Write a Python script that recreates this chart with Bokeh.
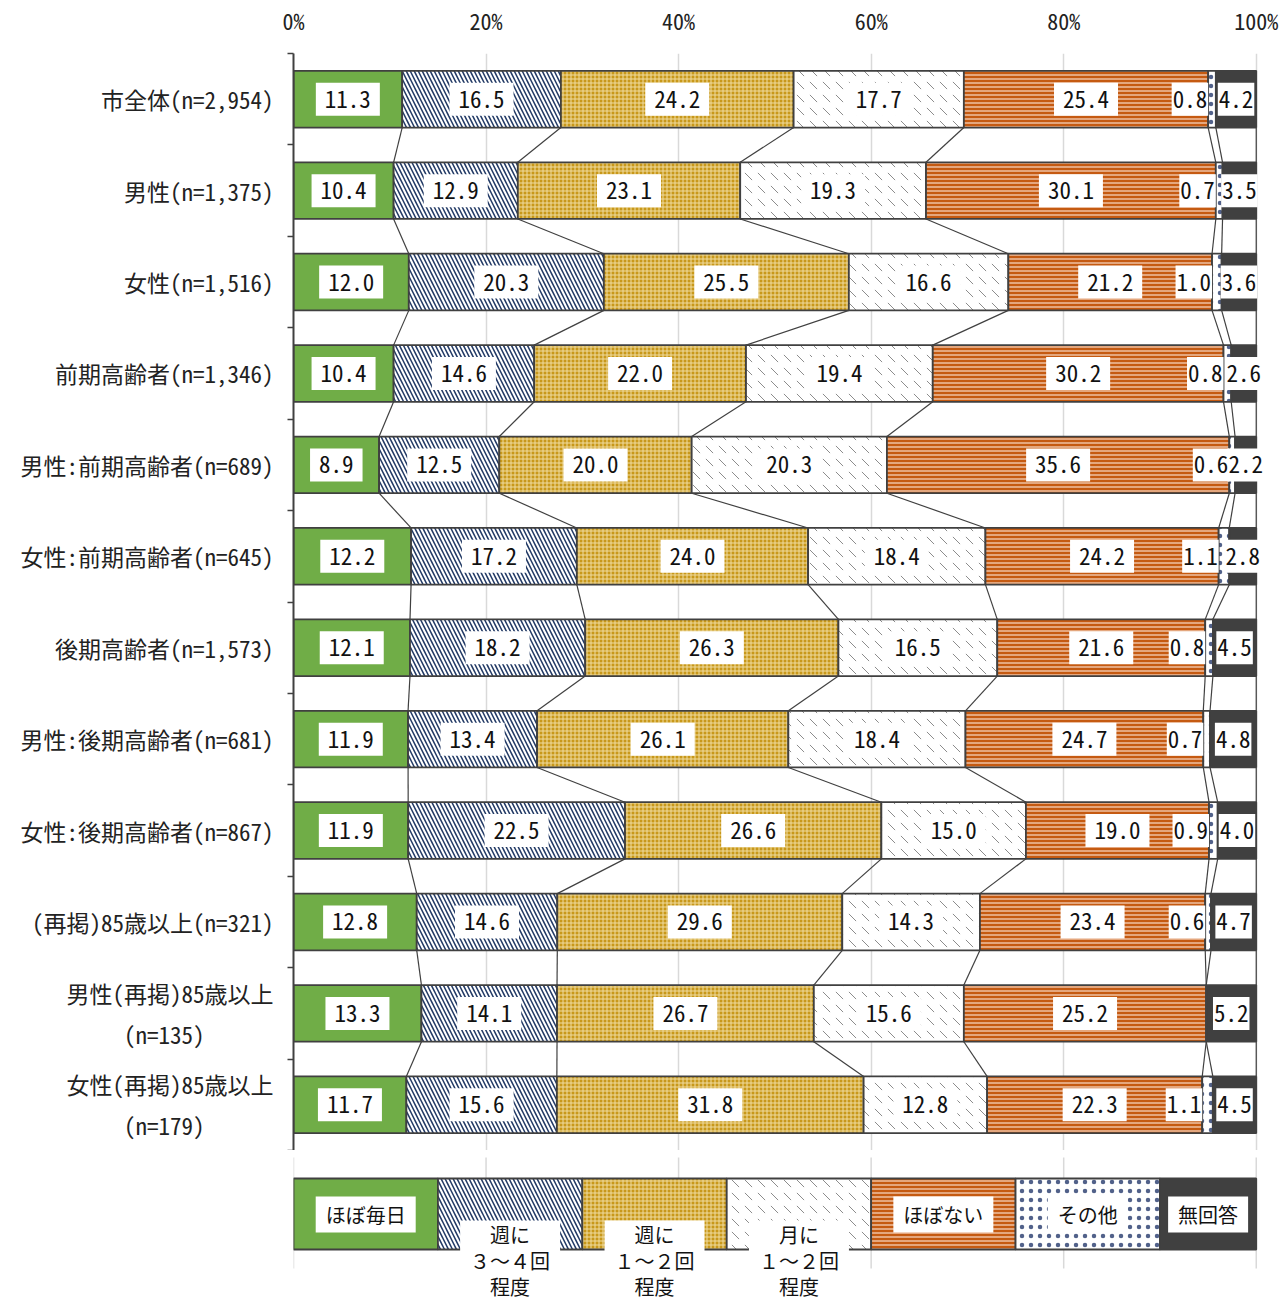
import numpy as np
from bokeh.plotting import figure
from bokeh.models import ColumnDataSource, FixedTicker, Range1d
from bokeh.layouts import column
from bokeh.embed import file_html
from bokeh.resources import INLINE
from bokeh.core.properties import value

categories = [
    "市全体(n=2,954)", "男性(n=1,375)", "女性(n=1,516)", "前期高齢者(n=1,346)",
    "男性:前期高齢者(n=689)", "女性:前期高齢者(n=645)", "後期高齢者(n=1,573)",
    "男性:後期高齢者(n=681)", "女性:後期高齢者(n=867)", "(再掲)85歳以上(n=321)",
    "男性(再掲)85歳以上\n(n=135)\u3000\u3000\u3000", "女性(再掲)85歳以上\n(n=179)\u3000\u3000\u3000",
]
series = ["ほぼ毎日", "週に３～４回程度", "週に１～２回程度", "月に１～２回程度", "ほぼない", "その他", "無回答"]
almost_daily = [11.3, 10.4, 12.0, 10.4, 8.9, 12.2, 12.1, 11.9, 11.9, 12.8, 13.3, 11.7]
week_3_4 = [16.5, 12.9, 20.3, 14.6, 12.5, 17.2, 18.2, 13.4, 22.5, 14.6, 14.1, 15.6]
week_1_2 = [24.2, 23.1, 25.5, 22.0, 20.0, 24.0, 26.3, 26.1, 26.6, 29.6, 26.7, 31.8]
month_1_2 = [17.7, 19.3, 16.6, 19.4, 20.3, 18.4, 16.5, 18.4, 15.0, 14.3, 15.6, 12.8]
rarely = [25.4, 30.1, 21.2, 30.2, 35.6, 24.2, 21.6, 24.7, 19.0, 23.4, 25.2, 22.3]
other = [0.8, 0.7, 1.0, 0.8, 0.6, 1.1, 0.8, 0.7, 0.9, 0.6, 0.0, 1.1]
no_answer = [4.2, 3.5, 3.6, 2.6, 2.2, 2.8, 4.5, 4.8, 4.0, 4.7, 5.2, 4.5]
x_ticks = [0, 20, 40, 60, 80, 100]
x_tick_labels = ["0%", "20%", "40%", "60%", "80%", "100%"]
legend_lines = [["ほぼ毎日"], ["週に", "３～４回", "程度"], ["週に", "１～２回", "程度"],
                ["月に", "１～２回", "程度"], ["ほぼない"], ["その他"], ["無回答"]]
legend_share = [15, 15, 15, 15, 15, 15, 10]

FONT = "'Noto Sans Mono CJK JP', 'Noto Sans CJK JP', sans-serif"
EDGE = "#404040"
styles = [
    dict(fill_color="#70AD47"),
    dict(fill_color="white", hatch_pattern="left_diagonal_line", hatch_color="#203864",
         hatch_scale=8, hatch_weight=1.5),
    dict(fill_color="#c8981a", hatch_pattern="cross", hatch_color="#f0dca0",
         hatch_scale=4, hatch_weight=1),
    dict(fill_color="white", hatch_pattern="left_diagonal_dash", hatch_color="#8c8c8c",
         hatch_scale=13, hatch_weight=1),
    dict(fill_color="#C55A11", hatch_pattern="horizontal_line", hatch_color="#f8dcc8",
         hatch_scale=4, hatch_weight=1.2),
    dict(fill_color="white", hatch_pattern="dot", hatch_color="#51618a",
         hatch_scale=9, hatch_weight=0.5),
    dict(fill_color="#404040"),
]

W = 1280
BL = 293
XMAX = 102                      # a little room right of 100% so edge labels are not clipped
FRAME_W = round(963 * XMAX / 100)
BR = W - BL - FRAME_W
px = XMAX / FRAME_W             # data units per screen pixel

n = len(categories)
vals = np.array([almost_daily, week_3_4, week_1_2, month_1_2, rarely, other, no_answer]).T
pct = vals / vals.sum(axis=1, keepdims=True) * 100
cum = np.cumsum(pct, axis=1)
left = cum - pct
yc = np.arange(n) + 0.5
H = 0.62

p = figure(width=W, height=1150, x_range=Range1d(0, XMAX), y_range=Range1d(n, 0),
           x_axis_location="above", output_backend="svg", toolbar_location=None,
           min_border_left=BL, min_border_right=BR, min_border_top=52, min_border_bottom=0)
p.outline_line_color = None

# grid
p.xgrid.ticker = FixedTicker(ticks=x_ticks)
p.xgrid.grid_line_color = "#D9D9D9"
p.xgrid.grid_line_width = 1.5
p.ygrid.grid_line_color = None

# top axis
xa = p.xaxis[0]
xa.ticker = FixedTicker(ticks=x_ticks)
xa.major_label_overrides = {t: l for t, l in zip(x_ticks, x_tick_labels)}
xa.axis_line_color = None
xa.major_tick_line_color = None
xa.minor_tick_line_color = None
xa.major_label_standoff = 12
xa.major_label_text_font = FONT
xa.major_label_text_font_size = "22px"
xa.major_label_text_color = "#222222"

# left axis
ya = p.yaxis[0]
ya.ticker = FixedTicker(ticks=list(yc), minor_ticks=list(range(n + 1)))
ya.major_label_overrides = {float(y): c for y, c in zip(yc, categories)}
ya.axis_line_color = EDGE
ya.axis_line_width = 2
ya.major_tick_line_color = None
ya.minor_tick_line_color = EDGE
ya.minor_tick_line_width = 1.5
ya.minor_tick_out = 6
ya.minor_tick_in = 0
ya.major_label_standoff = 14
ya.major_label_text_font = FONT
ya.major_label_text_font_size = "23px"
ya.major_label_text_color = "#222222"

# series (connector) lines
sx0, sy0, sx1, sy1 = [], [], [], []
for i in range(n - 1):
    for k in range(len(series)):
        sx0.append(cum[i, k]); sy0.append(yc[i] + H / 2)
        sx1.append(cum[i + 1, k]); sy1.append(yc[i + 1] - H / 2)
p.segment(x0=sx0, y0=sy0, x1=sx1, y1=sy1, line_color=EDGE, line_width=1.2)

# bars
for k, name in enumerate(series):
    src = ColumnDataSource(dict(y=yc, left=left[:, k], right=cum[:, k]))
    p.hbar(y="y", left="left", right="right", height=H, source=src,
           line_color=EDGE, line_width=1.8, **styles[k])

# value labels: white boxes + text
CW = 11.5   # approx. width of one digit at 23px
bx, by, bw = [], [], []
lx, ly, lt, la = [], [], [], []
for i in range(n):
    for k in range(len(series)):
        if vals[i, k] <= 0:
            continue
        s = f"{vals[i, k]:.1f}"
        tw = len(s) * CW
        if k == 5:        # その他: right-aligned at the left edge of its segment
            w = tw + 2
            bx.append(left[i, k] - w / 2 * px); bw.append(w)
            lx.append(left[i, k] - 1 * px); la.append("right")
        elif k == 6:      # 無回答: tight box, centred
            w = tw + 2
            bx.append(left[i, k] + pct[i, k] / 2); bw.append(w)
            lx.append(left[i, k] + pct[i, k] / 2); la.append("center")
        else:
            w = tw + 18
            bx.append(left[i, k] + pct[i, k] / 2); bw.append(w)
            lx.append(left[i, k] + pct[i, k] / 2); la.append("center")
        by.append(yc[i]); ly.append(yc[i]); lt.append(s)

p.rect(x=bx, y=by, width=bw, height=33, width_units="screen", height_units="screen",
       fill_color="white", line_color=None)
p.text(x="x", y="y", text="t", text_align="a",
       source=ColumnDataSource(dict(x=lx, y=ly, t=lt, a=la)),
       text_baseline="middle", text_font=value(FONT), text_font_size="23px",
       text_color="#111111")

# ---------------- legend strip ----------------
LH = 152
q = figure(width=W, height=LH, x_range=Range1d(0, XMAX), y_range=Range1d(LH, 0),
           x_axis_type=None, y_axis_type=None, output_backend="svg", toolbar_location=None,
           min_border_left=BL, min_border_right=BR, min_border_top=0, min_border_bottom=0)
q.outline_line_color = None
q.xgrid.grid_line_color = None
q.ygrid.grid_line_color = None
q.segment(x0=x_ticks, y0=[7] * len(x_ticks), x1=x_ticks, y1=[118] * len(x_ticks),
          line_color="#D9D9D9", line_width=1.5)

lcum = np.cumsum(legend_share)
lleft = lcum - np.array(legend_share)
for k in range(len(series)):
    q.quad(left=[lleft[k]], right=[lcum[k]], top=[28], bottom=[99],
           line_color=EDGE, line_width=1.8, **styles[k])

qx0, qx1, qt, qb = [], [], [], []
tx, ty, tt = [], [], []
for k, lines in enumerate(legend_lines):
    cx = (lleft[k] + lcum[k]) / 2
    if len(lines) == 1:
        w = len(lines[0]) * 20 + 20
        qx0.append(cx - w / 2 * px); qx1.append(cx + w / 2 * px); qt.append(46); qb.append(82)
        tx.append(cx); ty.append(64); tt.append(lines[0])
    else:
        w = 100
        qx0.append(cx - w / 2 * px); qx1.append(cx + w / 2 * px); qt.append(70); qb.append(LH)
        for j, s in enumerate(lines):
            tx.append(cx); ty.append(84 + 26 * j); tt.append(s)
q.quad(left=qx0, right=qx1, top=qt, bottom=qb, fill_color="white", line_color=None)
q.text(x=tx, y=ty, text=tt, text_align="center", text_baseline="middle",
       text_font=value(FONT), text_font_size="20px", text_color="#111111")

layout = column(p, q)
open("out.html", "w").write(file_html(layout, INLINE))
